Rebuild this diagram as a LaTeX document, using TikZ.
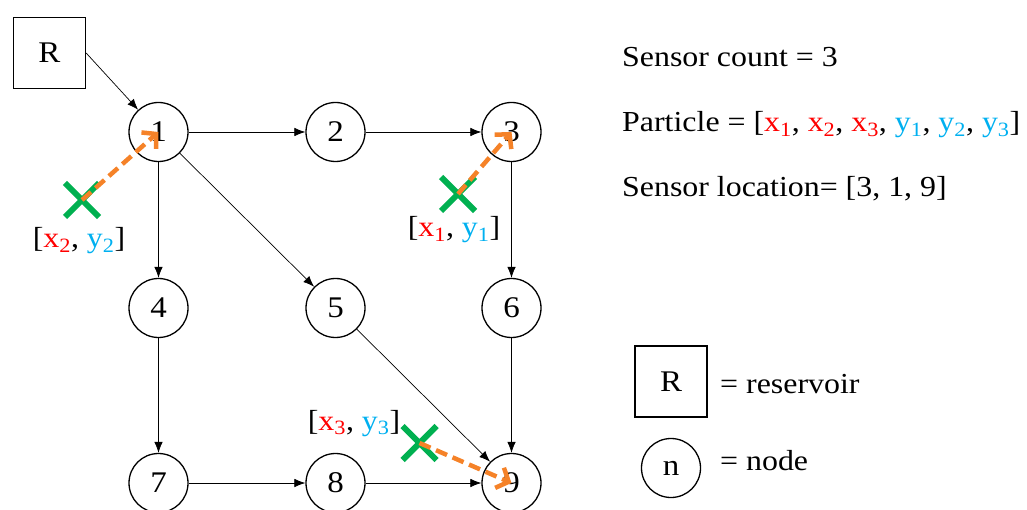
\documentclass[tikz,border=0pt]{standalone}
\usepackage{fontspec}
\setmainfont{Liberation Serif}[FakeStretch=1.1]
\usetikzlibrary{arrows.meta,shapes.misc}
\definecolor{xred}{RGB}{255,0,0}
\definecolor{ycyan}{RGB}{0,176,240}
\definecolor{sgreen}{RGB}{0,176,80}
\definecolor{sorange}{RGB}{245,130,40}
\newcommand{\xs}[1]{\textcolor{xred}{x\textsubscript{#1}}}
\newcommand{\ys}[1]{\textcolor{ycyan}{y\textsubscript{#1}}}
\tikzset{
  pnode/.style={circle, draw, line width=1.3pt, minimum size=59pt, inner sep=0pt, font=\fontsize{30}{32}\selectfont},
  rbox/.style={draw, line width=1.3pt, minimum width=72pt, minimum height=71pt, inner sep=0pt, font=\fontsize{30}{32}\selectfont},
  edge/.style={line width=0.7pt, -{Latex[length=11pt,width=8.5pt]}},
  sense/.style={sorange, line width=4.5pt, dash pattern=on 12pt off 6pt, -{Straight Barb[length=10pt,width=22pt,line width=4.5pt]}},
  cross/.style={cross out, draw=sgreen, line width=6pt, minimum size=28pt, inner sep=0pt},
  lbl/.style={font=\fontsize{29}{31}\selectfont, inner sep=0pt, anchor=base},
  txt/.style={font=\fontsize{29}{31}\selectfont, inner sep=0pt, anchor=base west},
}
\begin{document}
\begin{tikzpicture}[x=1pt,y=-1pt]
\useasboundingbox (0,0) rectangle (1027,510);
% graph nodes
\node[rbox] (R) at (49.5,53) {R};
\node[pnode] (n1) at (158.5,132) {1};
\node[pnode] (n2) at (335.5,132) {2};
\node[pnode] (n3) at (511.5,132) {3};
\node[pnode] (n4) at (158.5,308) {4};
\node[pnode] (n5) at (335.5,308) {5};
\node[pnode] (n6) at (511.5,308) {6};
\node[pnode] (n7) at (158.5,483) {7};
\node[pnode] (n8) at (335.5,483) {8};
\node[pnode] (n9) at (511.5,483) {9};
% edges
\draw[edge] (R.east) -- (n1);
\draw[edge] (n1) -- (n2);
\draw[edge] (n2) -- (n3);
\draw[edge] (n1) -- (n4);
\draw[edge] (n1) -- (n5);
\draw[edge] (n3) -- (n6);
\draw[edge] (n4) -- (n7);
\draw[edge] (n5) -- (n9);
\draw[edge] (n6) -- (n9);
\draw[edge] (n7) -- (n8);
\draw[edge] (n8) -- (n9);
% sensors
\node[cross] (c2) at (82,200) {};
\node[cross] (c1) at (458,194) {};
\node[cross] (c3) at (419.5,443) {};
\draw[sense] (c2.center) -- (n1.center);
\draw[sense] (c1.center) -- (n3.center);
\draw[sense] (c3.center) -- (n9.center);
\node[lbl] (l2) at (79,248) {[\xs2, \ys2]};
\node[lbl] (l1) at (454,237) {[\xs1, \ys1]};
\node[lbl] (l3) at (354,430) {[\xs3, \ys3]};
% right text
\node[txt] (t1) at (622,67) {Sensor count = 3};
\node[txt] (t2) at (622,132) {Particle = [\xs1, \xs2, \xs3, \ys1, \ys2, \ys3]};
\node[txt] (t3) at (622,197) {Sensor location= [3, 1, 9]};
% legend
\node[rbox] (LR) at (671,381.5) {R};
\node[txt] (LRt) at (720,393) {= reservoir};
\node[pnode] (Ln) at (671,468) {n};
\node[txt] (Lnt) at (720,470) {= node};
\end{tikzpicture}
\end{document}
